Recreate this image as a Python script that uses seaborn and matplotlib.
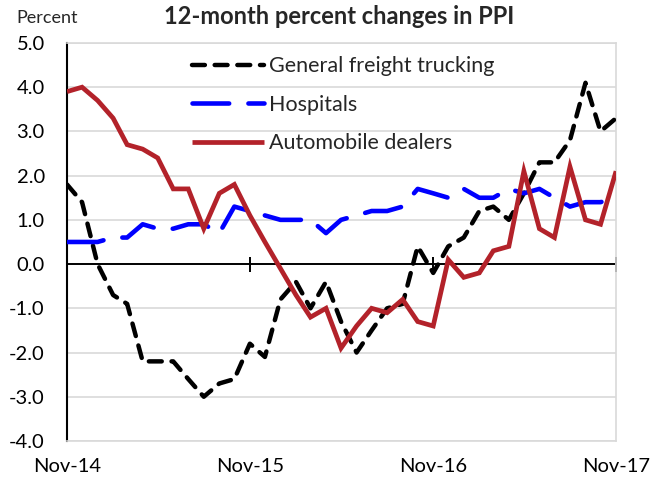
import matplotlib
matplotlib.use("Agg")
import matplotlib.pyplot as plt
import matplotlib.dates as mdates
from matplotlib.ticker import FixedLocator, FormatStrFormatter
import numpy as np
import pandas as pd
import seaborn as sns

# Monthly 12-month percent changes, Nov 2014 - Nov 2017
months = pd.date_range("2014-11-01", periods=37, freq="MS")

trucking = [1.8, 1.4, 0.0, -0.7, -0.9, -2.2, -2.2, -2.2, -2.6, -3.0,
            -2.7, -2.6, -1.8, -2.1, -0.8, -0.4, -1.0, -0.4, -1.3, -2.0,
            -1.5, -1.0, -0.9, 0.4, -0.2, 0.4, 0.6, 1.2, 1.3, 1.0,
            1.6, 2.3, 2.3, 2.8, 4.1, 3.0, 3.3]

hospitals = [0.5, 0.5, 0.5, 0.6, 0.6, 0.9, 0.8, 0.8, 0.9, 0.9,
             0.7, 1.3, 1.2, 1.1, 1.0, 1.0, 1.0, 0.7, 1.0, 1.1,
             1.2, 1.2, 1.3, 1.7, 1.6, 1.5, 1.7, 1.5, 1.5, 1.7,
             1.6, 1.7, 1.5, 1.3, 1.4, 1.4, 1.5]

auto_dealers = [3.9, 4.0, 3.7, 3.3, 2.7, 2.6, 2.4, 1.7, 1.7, 0.8,
                1.6, 1.8, 1.1, 0.5, -0.1, -0.7, -1.2, -1.0, -1.9, -1.4,
                -1.0, -1.1, -0.8, -1.3, -1.4, 0.1, -0.3, -0.2, 0.3, 0.4,
                2.1, 0.8, 0.6, 2.2, 1.0, 0.9, 2.1]

series_names = ["General freight trucking", "Hospitals", "Automobile dealers"]
tick_months = months[::12]
y_ticks = [-4, -3, -2, -1, 0, 1, 2, 3, 4, 5]

sns.set_style("white")
plt.rcParams["font.family"] = ["Lato", "DejaVu Sans"]
plt.rcParams["axes.unicode_minus"] = False

fig = plt.figure(figsize=(6.65, 4.8), dpi=100)
ax = fig.add_axes([0.1008, 0.0813, 0.8256, 0.8292])

grid_color = "#D9D9D9"
for y in y_ticks:
    if y != 0:
        ax.axhline(y, color=grid_color, lw=1.2, zorder=0)
ax.axhline(0, color="black", lw=1.4, zorder=1)
ax.vlines(tick_months, -0.17, 0.17, color="black", lw=1.4, zorder=1,
          clip_on=False)

styles = [
    dict(color="black", linewidth=3.2, linestyle=(0, (2.9, 2.2)),
         dash_capstyle="round", dash_joinstyle="round"),
    dict(color="#0000FF", linewidth=3.3, linestyle=(0, (8.0, 4.2)),
         dash_capstyle="round", dash_joinstyle="round"),
    dict(color="#B3222A", linewidth=3.4, linestyle="-",
         solid_capstyle="butt", solid_joinstyle="miter"),
]
for name, vals, st in zip(series_names, [trucking, hospitals, auto_dealers], styles):
    sns.lineplot(x=months, y=vals, ax=ax, label=name, errorbar=None,
                 zorder=3, **st)

ax.set_xlim(months[0], months[-1])
ax.set_ylim(-4, 5)
ax.set_xticks(tick_months)
ax.xaxis.set_major_formatter(mdates.DateFormatter("%b-%y"))
ax.yaxis.set_major_locator(FixedLocator(y_ticks))
ax.yaxis.set_major_formatter(FormatStrFormatter("%.1f"))
ax.tick_params(axis="x", length=0, pad=12, labelsize=14.5, colors="black")
ax.tick_params(axis="y", length=0, pad=16, labelsize=14.5, colors="black")
ax.set_xlabel("")
ax.set_ylabel("")

for side in ["top", "right", "bottom"]:
    ax.spines[side].set_color(grid_color)
    ax.spines[side].set_linewidth(1.2)
ax.spines["left"].set_color("black")
ax.spines["left"].set_linewidth(1.5)

ax.legend(loc="upper left", bbox_to_anchor=(0.228, 0.966), frameon=False,
          fontsize=15.5, handlelength=3.35, handletextpad=0.22,
          labelspacing=0.85, borderpad=0, borderaxespad=0)

fig.text(0.51, 0.965, "12-month percent changes in PPI", ha="center",
         va="center", fontsize=17, fontweight="bold")
fig.text(0.024, 0.963, "Percent", ha="left", va="center", fontsize=13)

fig.savefig("out.png", dpi=100)
